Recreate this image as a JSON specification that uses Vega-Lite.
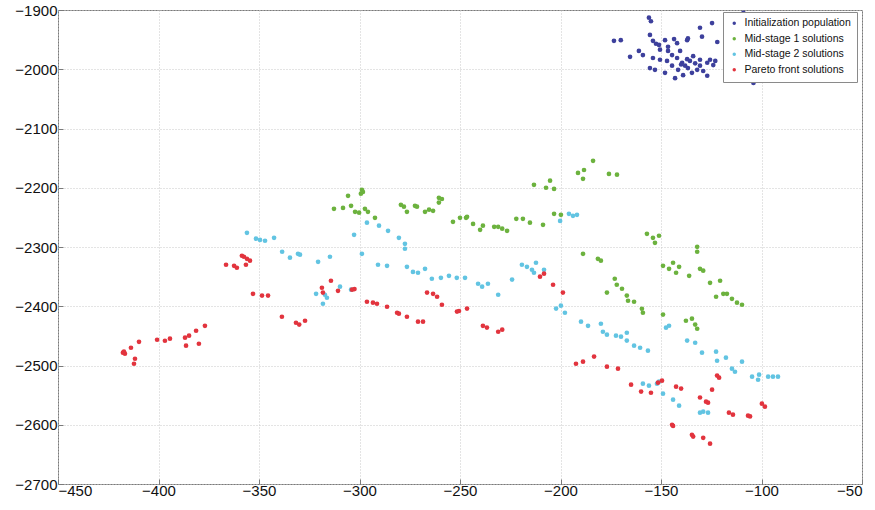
{
  "$schema": "https://vega.github.io/schema/vega-lite/v6.json",
  "autosize": {"type": "none"},
  "width": 804,
  "height": 474,
  "padding": {"left": 58, "top": 10, "right": 13, "bottom": 26},
  "background": "white",
  "config": {
    "font": "Liberation Sans",
    "view": {"stroke": "#7a7a7a", "strokeWidth": 1},
    "axis": {
      "grid": true, "gridColor": "#c8c8c8", "gridDash": [1, 2], "gridWidth": 1,
      "domain": false, "ticks": true, "tickColor": "#7a7a7a", "tickSize": -5,
      "labelFont": "Liberation Sans", "labelFontSize": 15, "labelColor": "#111", "title": null, "format": "d"
    }
  },
  "datasets": {
    "I": [{"x":-156,"y":-1913},{"x":-155,"y":-1919},{"x":-173.4,"y":-1952},{"x":-170,"y":-1951},{"x":-165.4,"y":-1979},{"x":-161,"y":-1969},{"x":-159,"y":-1976},{"x":-155.5,"y":-1942},{"x":-154,"y":-1952},{"x":-152.5,"y":-1957},{"x":-151,"y":-1959},{"x":-148,"y":-1951},{"x":-143.5,"y":-1949},{"x":-142,"y":-1956},{"x":-137,"y":-1951},{"x":-136.6,"y":-1948},{"x":-130.6,"y":-1930},{"x":-124.6,"y":-1922},{"x":-129.6,"y":-1945},{"x":-122,"y":-1954},{"x":-154,"y":-1981},{"x":-150.5,"y":-1984},{"x":-155.5,"y":-1998},{"x":-153,"y":-2001},{"x":-146.5,"y":-1969},{"x":-144.5,"y":-1976},{"x":-147,"y":-1986},{"x":-142,"y":-1981},{"x":-139.5,"y":-1989},{"x":-144.5,"y":-1994},{"x":-141.5,"y":-2001},{"x":-135.6,"y":-1986},{"x":-134,"y":-1978},{"x":-130.6,"y":-1984},{"x":-127,"y":-1989},{"x":-125.6,"y":-1984},{"x":-123,"y":-1986},{"x":-136.6,"y":-1998},{"x":-132,"y":-2001},{"x":-134.6,"y":-2006},{"x":-143,"y":-2015},{"x":-127,"y":-2011},{"x":-104,"y":-2023},{"x":-148,"y":-2006},{"x":-139,"y":-2010},{"x":-146.5,"y":-1962},{"x":-150.5,"y":-1967},{"x":-140.5,"y":-1969},{"x":-138,"y":-1994},{"x":-130.6,"y":-1994},{"x":-129,"y":-2003},{"x":-124,"y":-1993},{"x":-109,"y":-1905},{"x":-140,"y":-1992},{"x":-133,"y":-1990},{"x":-137,"y":-1983}],
    "M1": [{"x":-312.7,"y":-2235.6},{"x":-308.2,"y":-2234},{"x":-305.7,"y":-2213.7},{"x":-304.2,"y":-2230.5},{"x":-302.2,"y":-2240.6},{"x":-300.2,"y":-2242},{"x":-299.3,"y":-2210},{"x":-298.8,"y":-2203.5},{"x":-298.3,"y":-2207},{"x":-297.3,"y":-2235.6},{"x":-295.8,"y":-2240.6},{"x":-292.3,"y":-2250.8},{"x":-279.4,"y":-2228.8},{"x":-277.9,"y":-2232},{"x":-276.4,"y":-2240.6},{"x":-272.4,"y":-2230.5},{"x":-271.4,"y":-2232},{"x":-267.4,"y":-2240.6},{"x":-265.4,"y":-2237},{"x":-263.4,"y":-2239},{"x":-260.5,"y":-2217},{"x":-260.5,"y":-2225},{"x":-259,"y":-2219},{"x":-253.5,"y":-2257.5},{"x":-250,"y":-2250.8},{"x":-247,"y":-2250.8},{"x":-246.5,"y":-2249},{"x":-243.5,"y":-2261},{"x":-240,"y":-2271},{"x":-238.6,"y":-2264},{"x":-233,"y":-2266},{"x":-231,"y":-2266},{"x":-229,"y":-2269},{"x":-226.6,"y":-2272.7},{"x":-222,"y":-2252.4},{"x":-218.7,"y":-2252.4},{"x":-215.2,"y":-2259},{"x":-208.7,"y":-2262.6},{"x":-203.2,"y":-2244},{"x":-199.8,"y":-2245.7},{"x":-213.2,"y":-2195},{"x":-207.2,"y":-2200},{"x":-205.2,"y":-2188},{"x":-203.2,"y":-2202},{"x":-191.3,"y":-2175},{"x":-188.3,"y":-2170},{"x":-188.8,"y":-2185},{"x":-183.8,"y":-2154.6},{"x":-175.9,"y":-2176.6},{"x":-171.9,"y":-2178},{"x":-157,"y":-2277.7},{"x":-188.8,"y":-2311.5},{"x":-181.4,"y":-2320},{"x":-179.9,"y":-2323},{"x":-173,"y":-2353.6},{"x":-172,"y":-2363.7},{"x":-176.9,"y":-2377},{"x":-169.4,"y":-2370.5},{"x":-167,"y":-2382},{"x":-166.4,"y":-2390.7},{"x":-163.4,"y":-2392.4},{"x":-159.5,"y":-2404.2},{"x":-159,"y":-2411},{"x":-154,"y":-2284.5},{"x":-153,"y":-2293},{"x":-151,"y":-2281},{"x":-149,"y":-2331.7},{"x":-146,"y":-2336.8},{"x":-144,"y":-2326.6},{"x":-142.5,"y":-2343.5},{"x":-141,"y":-2333.4},{"x":-136,"y":-2348.6},{"x":-132,"y":-2299.7},{"x":-132,"y":-2308},{"x":-130.6,"y":-2336.8},{"x":-129,"y":-2340},{"x":-125.6,"y":-2360.4},{"x":-120.6,"y":-2357},{"x":-122.6,"y":-2384},{"x":-119,"y":-2379},{"x":-117.2,"y":-2379},{"x":-114.7,"y":-2387.4},{"x":-112.2,"y":-2394},{"x":-109.7,"y":-2397.5},{"x":-149,"y":-2414},{"x":-137.6,"y":-2424.5},{"x":-134.6,"y":-2421},{"x":-133,"y":-2431},{"x":-132,"y":-2438}],
    "M2": [{"x":-356,"y":-2276},{"x":-351.5,"y":-2286},{"x":-349.5,"y":-2288},{"x":-347,"y":-2289.5},{"x":-342.5,"y":-2284.5},{"x":-338.5,"y":-2308},{"x":-334.6,"y":-2318},{"x":-330.6,"y":-2311.5},{"x":-329.6,"y":-2313},{"x":-320.6,"y":-2325},{"x":-314.7,"y":-2316.5},{"x":-302.7,"y":-2279.4},{"x":-298.8,"y":-2311.5},{"x":-296.3,"y":-2259},{"x":-290.3,"y":-2264},{"x":-285.8,"y":-2272.7},{"x":-280.4,"y":-2284.5},{"x":-277.4,"y":-2294.6},{"x":-277.4,"y":-2303},{"x":-290.8,"y":-2330},{"x":-286.3,"y":-2331.7},{"x":-276.4,"y":-2333.4},{"x":-273.4,"y":-2342},{"x":-270.9,"y":-2343.5},{"x":-267.4,"y":-2336.8},{"x":-264,"y":-2353.6},{"x":-259.5,"y":-2352},{"x":-321.6,"y":-2379},{"x":-317.2,"y":-2380.6},{"x":-316.2,"y":-2385.7},{"x":-318.2,"y":-2395.8},{"x":-309.7,"y":-2367},{"x":-304.2,"y":-2372},{"x":-255.5,"y":-2348.6},{"x":-251.6,"y":-2352},{"x":-247.5,"y":-2352},{"x":-241,"y":-2362},{"x":-239,"y":-2367},{"x":-236.1,"y":-2362},{"x":-231,"y":-2380.6},{"x":-224.1,"y":-2355},{"x":-219.2,"y":-2330},{"x":-216.7,"y":-2333.4},{"x":-214.2,"y":-2338.4},{"x":-212.2,"y":-2326.6},{"x":-213.2,"y":-2343.5},{"x":-208.2,"y":-2338.4},{"x":-202.2,"y":-2404},{"x":-199.8,"y":-2399},{"x":-197.8,"y":-2411},{"x":-200.2,"y":-2256},{"x":-195.8,"y":-2244},{"x":-193.8,"y":-2247.4},{"x":-191.8,"y":-2245.7},{"x":-189.8,"y":-2426},{"x":-186.3,"y":-2433},{"x":-179.9,"y":-2429.5},{"x":-178.9,"y":-2443},{"x":-176.9,"y":-2448},{"x":-172.4,"y":-2449.7},{"x":-169.9,"y":-2451.4},{"x":-167,"y":-2444.7},{"x":-167,"y":-2458},{"x":-163.4,"y":-2466.6},{"x":-160.4,"y":-2470},{"x":-156.5,"y":-2475},{"x":-147.5,"y":-2436.2},{"x":-146,"y":-2432.9},{"x":-137,"y":-2458},{"x":-133,"y":-2461.6},{"x":-129.6,"y":-2478.4},{"x":-122.6,"y":-2476.7},{"x":-122.1,"y":-2492},{"x":-117.7,"y":-2486.8},{"x":-114.7,"y":-2505.4},{"x":-113.2,"y":-2510.5},{"x":-109.7,"y":-2493.6},{"x":-104.7,"y":-2518.9},{"x":-101.2,"y":-2515.5},{"x":-101.7,"y":-2524},{"x":-96.7,"y":-2518.9},{"x":-94.3,"y":-2518.9},{"x":-91.8,"y":-2518.9},{"x":-159,"y":-2530.7},{"x":-156,"y":-2534},{"x":-152,"y":-2530.7},{"x":-151,"y":-2527.3},{"x":-149,"y":-2547.5},{"x":-144,"y":-2557.7},{"x":-141,"y":-2567.8},{"x":-130.6,"y":-2579.6},{"x":-129,"y":-2578},{"x":-126.6,"y":-2579.6}],
    "P": [{"x":-366.4,"y":-2330},{"x":-362.4,"y":-2331.7},{"x":-361,"y":-2335},{"x":-358.5,"y":-2314.8},{"x":-357.5,"y":-2316.5},{"x":-356,"y":-2320},{"x":-354.5,"y":-2323},{"x":-356.5,"y":-2330},{"x":-353,"y":-2379},{"x":-348.5,"y":-2382},{"x":-345.5,"y":-2382},{"x":-338.6,"y":-2417.7},{"x":-331.6,"y":-2427.8},{"x":-330,"y":-2431},{"x":-327.1,"y":-2424.5},{"x":-417.7,"y":-2478.4},{"x":-416.7,"y":-2480},{"x":-417.2,"y":-2476.7},{"x":-413.7,"y":-2470},{"x":-411.7,"y":-2488.6},{"x":-412.2,"y":-2497},{"x":-409.7,"y":-2460},{"x":-400.7,"y":-2456.5},{"x":-396.8,"y":-2458.2},{"x":-394.3,"y":-2454.8},{"x":-386.8,"y":-2453},{"x":-386.3,"y":-2466.6},{"x":-384.8,"y":-2449.7},{"x":-381.3,"y":-2441.3},{"x":-379.9,"y":-2463.3},{"x":-376.9,"y":-2433},{"x":-318.7,"y":-2368.8},{"x":-318.2,"y":-2377},{"x":-314.2,"y":-2357},{"x":-310.7,"y":-2374},{"x":-303.7,"y":-2372},{"x":-302.5,"y":-2371},{"x":-296.3,"y":-2392.4},{"x":-293.3,"y":-2394},{"x":-291.3,"y":-2395.8},{"x":-286.3,"y":-2400.8},{"x":-281.3,"y":-2411},{"x":-280.4,"y":-2412.6},{"x":-276.4,"y":-2417.7},{"x":-270.9,"y":-2426},{"x":-268.4,"y":-2426},{"x":-266.4,"y":-2377},{"x":-263.4,"y":-2379},{"x":-261.4,"y":-2384},{"x":-259,"y":-2397.5},{"x":-251.5,"y":-2409},{"x":-250.5,"y":-2408},{"x":-246.5,"y":-2404},{"x":-238.6,"y":-2433},{"x":-236.6,"y":-2436},{"x":-231,"y":-2443},{"x":-229,"y":-2439.6},{"x":-210.2,"y":-2350},{"x":-208.2,"y":-2345},{"x":-203.7,"y":-2363.7},{"x":-198.8,"y":-2377},{"x":-192.3,"y":-2497},{"x":-188.8,"y":-2493.6},{"x":-183.3,"y":-2485},{"x":-176.9,"y":-2502},{"x":-171.4,"y":-2505.4},{"x":-164.9,"y":-2532.4},{"x":-159.9,"y":-2544},{"x":-155,"y":-2546},{"x":-151.5,"y":-2529},{"x":-149.5,"y":-2525.6},{"x":-142.5,"y":-2535.8},{"x":-140,"y":-2539},{"x":-130.6,"y":-2554},{"x":-127.6,"y":-2561},{"x":-126.6,"y":-2562.7},{"x":-124.6,"y":-2540.8},{"x":-122.1,"y":-2517},{"x":-121.1,"y":-2520.6},{"x":-116.2,"y":-2579.6},{"x":-114.2,"y":-2583},{"x":-106.7,"y":-2584.6},{"x":-105.7,"y":-2586},{"x":-99.8,"y":-2564.4},{"x":-98.3,"y":-2569.5},{"x":-144.5,"y":-2600},{"x":-144,"y":-2602},{"x":-134.6,"y":-2617},{"x":-134,"y":-2620},{"x":-129,"y":-2622},{"x":-125.6,"y":-2632}]
  },
  "encoding": {
    "x": {"field": "x", "type": "quantitative", "scale": {"domain": [-450, -50], "nice": false, "zero": false}, "axis": {"values": [-450, -400, -350, -300, -250, -200, -150, -100, -50], "labelPadding": 4}},
    "y": {"field": "y", "type": "quantitative", "scale": {"domain": [-2700, -1900], "nice": false, "zero": false}, "axis": {"values": [-2700, -2600, -2500, -2400, -2300, -2200, -2100, -2000, -1900], "labelPadding": 6}}
  },
  "layer": [
    {
      "data": {"name": "I"},
      "mark": {"type": "point", "filled": true, "shape": "circle", "size": 22, "opacity": 1},
      "encoding": {
        "color": {
          "datum": "Initialization population",
          "type": "nominal",
          "scale": {
            "domain": ["Initialization population", "Mid-stage 1 solutions", "Mid-stage 2 solutions", "Pareto front solutions"],
            "range": ["#3d409c", "#6cb23e", "#62c4e2", "#e2343e"]
          },
          "legend": {
            "title": null, "orient": "none", "legendX": 665, "legendY": 2,
            "fillColor": "white", "strokeColor": "#8a8a8a", "padding": 6,
            "labelFont": "Liberation Sans", "labelFontSize": 10.5, "labelColor": "#111",
            "symbolSize": 12, "symbolType": "circle", "rowPadding": 4.5, "labelOffset": 5
          }
        }
      }
    },
    {
      "data": {"name": "M1"},
      "mark": {"type": "point", "filled": true, "shape": "circle", "size": 22, "opacity": 1},
      "encoding": {"color": {"datum": "Mid-stage 1 solutions", "type": "nominal"}}
    },
    {
      "data": {"name": "M2"},
      "mark": {"type": "point", "filled": true, "shape": "circle", "size": 22, "opacity": 1},
      "encoding": {"color": {"datum": "Mid-stage 2 solutions", "type": "nominal"}}
    },
    {
      "data": {"name": "P"},
      "mark": {"type": "point", "filled": true, "shape": "circle", "size": 22, "opacity": 1},
      "encoding": {"color": {"datum": "Pareto front solutions", "type": "nominal"}}
    }
  ]
}
